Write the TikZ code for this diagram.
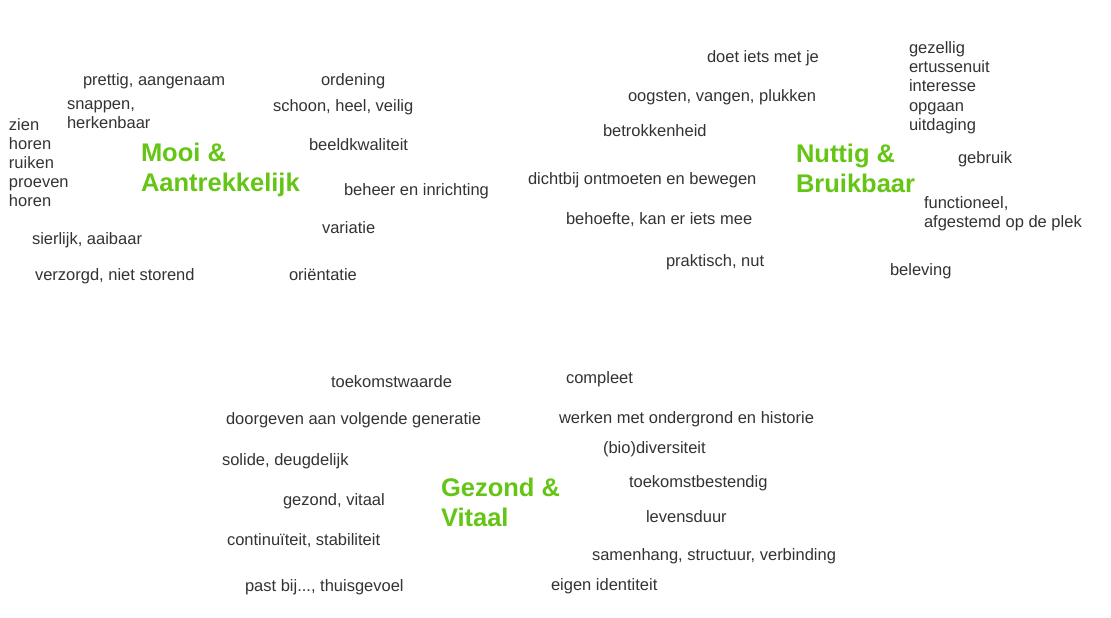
\documentclass[tikz,border=0pt]{standalone}
\usepackage{fontspec}
\setmainfont{Liberation Sans}
\definecolor{wordgray}{HTML}{333333}
\definecolor{titlegreen}{HTML}{64C514}
\tikzset{
  word/.style={anchor=base west,inner sep=0pt,outer sep=0pt,text=wordgray,font=\fontsize{16.5}{19}\selectfont},
  title/.style={anchor=base west,inner sep=0pt,outer sep=0pt,text=titlegreen,font=\fontsize{25.5}{30}\selectfont\bfseries}
}
\begin{document}
\begin{tikzpicture}[x=1pt,y=-1pt]
\useasboundingbox (0,0) rectangle (1111,618);
\fill[white] (0,0) rectangle (1111,618);
% Mooi & Aantrekkelijk
\node[title] (m1) at (141,161) {Mooi \&};
\node[title] (m2) at (141,191) {Aantrekkelijk};
\node[word] (a1) at (83,85) {prettig, aangenaam};
\node[word] (a2) at (67,109) {snappen,};
\node[word] (a3) at (67,128) {herkenbaar};
\node[word] (a4) at (9,130) {zien};
\node[word] (a5) at (9,149) {horen};
\node[word] (a6) at (9,168) {ruiken};
\node[word] (a7) at (9,187) {proeven};
\node[word] (a8) at (9,206) {horen};
\node[word] (a9) at (321,85) {ordening};
\node[word] (a10) at (273,111) {schoon, heel, veilig};
\node[word] (a11) at (309,150) {beeldkwaliteit};
\node[word] (a12) at (344,195) {beheer en inrichting};
\node[word] (a13) at (322,233) {variatie};
\node[word] (a14) at (32,244) {sierlijk, aaibaar};
\node[word] (a15) at (35,280) {verzorgd, niet storend};
\node[word] (a16) at (289,280) {oriëntatie};
% Nuttig & Bruikbaar
\node[title] (n1) at (796,162) {Nuttig \&};
\node[title] (n2) at (796,192) {Bruikbaar};
\node[word] (b1) at (707,63) {doet iets met je};
\node[word] (b2) at (628,101) {oogsten, vangen, plukken};
\node[word] (b3) at (603,136) {betrokkenheid};
\node[word] (b4) at (528,184) {dichtbij ontmoeten en bewegen};
\node[word] (b5) at (566,224) {behoefte, kan er iets mee};
\node[word] (b6) at (666,266) {praktisch, nut};
\node[word] (b7) at (909,54) {gezellig};
\node[word] (b8) at (909,73) {ertussenuit};
\node[word] (b9) at (909,92) {interesse};
\node[word] (b10) at (909,111) {opgaan};
\node[word] (b11) at (909,130) {uitdaging};
\node[word] (b12) at (958,163) {gebruik};
\node[word] (b13) at (924,208) {functioneel,};
\node[word] (b14) at (924,227) {afgestemd op de plek};
\node[word] (b15) at (890,275) {beleving};
% Gezond & Vitaal
\node[title] (g1) at (441,496) {Gezond \&};
\node[title] (g2) at (441,526) {Vitaal};
\node[word] (c1) at (331,387) {toekomstwaarde};
\node[word] (c2) at (226,424) {doorgeven aan volgende generatie};
\node[word] (c3) at (222,465) {solide, deugdelijk};
\node[word] (c4) at (283,505) {gezond, vitaal};
\node[word] (c5) at (227,545) {continuïteit, stabiliteit};
\node[word] (c6) at (245,591) {past bij..., thuisgevoel};
\node[word] (c7) at (566,383) {compleet};
\node[word] (c8) at (559,423) {werken met ondergrond en historie};
\node[word] (c9) at (603,453) {(bio)diversiteit};
\node[word] (c10) at (629,487) {toekomstbestendig};
\node[word] (c11) at (646,522) {levensduur};
\node[word] (c12) at (592,560) {samenhang, structuur, verbinding};
\node[word] (c13) at (551,590) {eigen identiteit};
\end{tikzpicture}
\end{document}
